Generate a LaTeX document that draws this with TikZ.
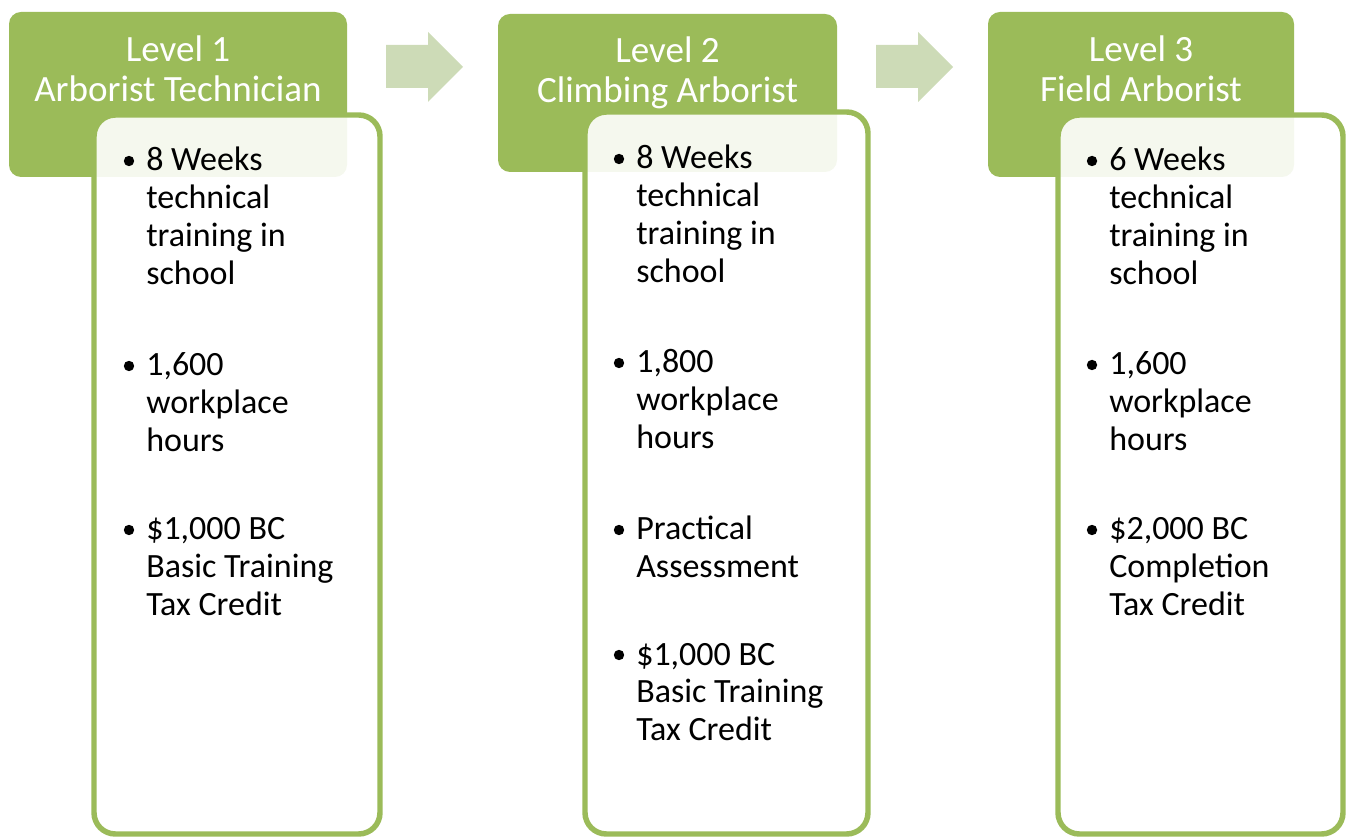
\documentclass[tikz,border=0pt]{standalone}
\usepackage{fontspec}
\setmainfont{Carlito}
\definecolor{hgreen}{HTML}{9BBB59}
\definecolor{agreen}{HTML}{CDDBB7}
\begin{document}
\begin{tikzpicture}[x=0.75pt,y=-0.75pt,
  header/.style={draw=none,fill=hgreen,rounded corners=9pt,inner sep=0pt},
  bodybox/.style={draw=hgreen,line width=4.1pt,fill=white,fill opacity=0.9,rounded corners=16pt,inner sep=0pt},
  htext/.style={text=white,align=center,inner sep=0pt,font=\fontsize{27.8}{30}\selectfont},
  itemtext/.style={align=left,inner sep=0pt,anchor=base west,font=\fontsize{25.5}{28.35}\selectfont},
  bul/.style={circle,fill=black,draw=none,inner sep=0pt,minimum size=7.8pt},
  arrowfill/.style={fill=agreen,draw=none}]
\useasboundingbox (0,0) rectangle (1347,837);
% headers
\node[header,minimum width=253.5pt,minimum height=123.75pt] (h1) at (178,94.5) {};
\node[header,minimum width=254.25pt,minimum height=118.5pt] (h2) at (667.5,93) {};
\node[header,minimum width=229.5pt,minimum height=123.75pt] (h3) at (1141,94.5) {};
% arrows
\fill[arrowfill] (386,45) -- (428,45) -- (428,32) -- (463,67) -- (428,102) -- (428,88) -- (386,88) -- cycle;
\fill[arrowfill] (876,45) -- (918,45) -- (918,32) -- (953,67) -- (918,102) -- (918,88) -- (876,88) -- cycle;
% bodies
\node[bodybox,minimum width=214.5pt,minimum height=539.25pt] (b1) at (237,474.5) {};
\node[bodybox,minimum width=212.25pt,minimum height=541.5pt] (b2) at (726.5,473) {};
\node[bodybox,minimum width=213.75pt,minimum height=539.25pt] (b3) at (1200.5,474.5) {};
% header text (anchor base = last line)
\node[htext,anchor=base] (t1) at (178,102) {Level 1\\Arborist Technician};
\node[htext,anchor=base] (t2) at (667.5,103) {Level 2\\Climbing Arborist};
\node[htext,anchor=base] (t3) at (1141,102) {Level 3\\Field Arborist};
% box 1 items (text anchored at last line baseline)
\node[bul] (p11) at (129,161) {};
\node[itemtext] (i11) at (146,284.4) {8 Weeks\\technical\\training in\\school};
\node[bul] (p12) at (129,366) {};
\node[itemtext] (i12) at (146,451.6) {1,600\\workplace\\hours};
\node[bul] (p13) at (129,530) {};
\node[itemtext] (i13) at (146,615.6) {\$1,000 BC\\Basic Training\\Tax Credit};
% box 2 items
\node[bul] (p21) at (619,159) {};
\node[itemtext] (i21) at (636,282.4) {8 Weeks\\technical\\training in\\school};
\node[bul] (p22) at (619,363) {};
\node[itemtext] (i22) at (636,448.6) {1,800\\workplace\\hours};
\node[bul] (p23) at (619,530) {};
\node[itemtext] (i23) at (636,577.8) {Practical\\Assessment};
\node[bul] (p24) at (619,655) {};
\node[itemtext] (i24) at (636,740.6) {\$1,000 BC\\Basic Training\\Tax Credit};
% box 3 items
\node[bul] (p31) at (1092,161) {};
\node[itemtext] (i31) at (1109,284.4) {6 Weeks\\technical\\training in\\school};
\node[bul] (p32) at (1092,365) {};
\node[itemtext] (i32) at (1109,450.6) {1,600\\workplace\\hours};
\node[bul] (p33) at (1092,530) {};
\node[itemtext] (i33) at (1109,615.6) {\$2,000 BC\\Completion\\Tax Credit};
\end{tikzpicture}
\end{document}
